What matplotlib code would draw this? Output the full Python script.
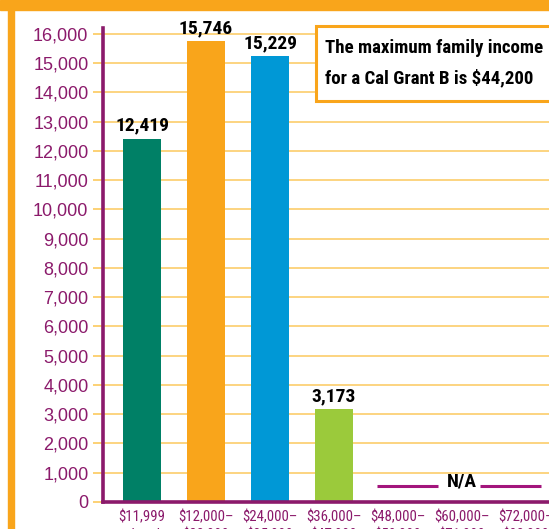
import matplotlib
matplotlib.use('Agg')
import matplotlib.pyplot as plt
from matplotlib.patches import Rectangle

# income brackets (second line of each label is cut off in the original)
categories = ['$11,999\nand under', '$12,000–\n$23,999', '$24,000–\n$35,999',
              '$36,000–\n$47,999', '$48,000–\n$59,999', '$60,000–\n$71,999',
              '$72,000–\n$83,999']
recipients = [12419, 15746, 15229, 3173]
bar_colors = ['#008066', '#f9a51b', '#0098d6', '#9bca3b']
yticks = list(range(0, 17000, 1000))

PURPLE = '#8b1a6b'
ORANGE = '#f9a51b'
GRID = '#fcc95e'
NARROW = ['Roboto Condensed', 'Archivo Narrow', 'DejaVu Sans']

fig = plt.figure(figsize=(5.49, 5.29), dpi=100)

# orange frame (top band and left strip)
fig.patches.append(Rectangle((0, 1 - 10 / 529), 1, 10 / 529, transform=fig.transFigure,
                             color=ORANGE, zorder=0))
fig.patches.append(Rectangle((8 / 549, 0), 6 / 549, 1, transform=fig.transFigure,
                             color=ORANGE, zorder=0))

ax = fig.add_axes([103 / 549, 27 / 529, 455 / 549, 474 / 529])
x = list(range(len(recipients)))
ax.bar(x, recipients, width=0.6, color=bar_colors, zorder=3)

for xi, v in zip(x, recipients):
    ax.annotate(f'{v:,}', (xi, v), xytext=(0, 3), textcoords='offset points',
                ha='center', va='bottom', fontsize=14, fontweight='bold',
                family=NARROW, color='black', zorder=4)

# N/A marker across the last three brackets
ax.text(5, 520, 'N/A', ha='center', va='baseline', fontsize=14, fontweight='bold',
        family=NARROW, color='black', zorder=4)
ax.plot([3.67, 4.62], [560, 560], color='#a3157c', lw=2.2, solid_capstyle='butt', zorder=4)
ax.plot([5.28, 6.23], [560, 560], color='#a3157c', lw=2.2, solid_capstyle='butt', zorder=4)

ax.set_xlim(-0.61, 6.5)
ax.set_ylim(0, 16200)
ax.set_yticks(yticks)
ax.set_yticklabels([f'{t:,}' for t in yticks], fontsize=13, color=PURPLE,
                   family='Liberation Sans')
ax.set_xticks(range(len(categories)))
ax.set_xticklabels(categories, fontsize=10.7, color=PURPLE, family=NARROW,
                   linespacing=1.3)
ax.tick_params(axis='y', length=7, width=1.2, color=GRID, pad=3.5)
ax.tick_params(axis='x', length=0, pad=6)
ax.grid(axis='y', color=GRID, lw=1.1, zorder=0)

for side in ['top', 'right']:
    ax.spines[side].set_visible(False)
for side in ['left', 'bottom']:
    ax.spines[side].set_color(PURPLE)
    ax.spines[side].set_linewidth(2.6)
    ax.spines[side].set_zorder(5)

# callout box
fig.patches.append(Rectangle((316 / 549, 1 - 101 / 529), 260 / 549, 75 / 529,
                             transform=fig.transFigure, facecolor='white',
                             edgecolor=ORANGE, lw=2.2, zorder=6))
fig.text(325 / 549, 1 - 53 / 529, 'The maximum family income', fontsize=13.6,
         fontweight='bold', family=NARROW, color='black', va='baseline', zorder=7)
fig.text(325 / 549, 1 - 83 / 529, 'for a Cal Grant B is $44,200', fontsize=13.6,
         fontweight='bold', family=NARROW, color='black', va='baseline', zorder=7)

fig.savefig('out.png', dpi=100)
